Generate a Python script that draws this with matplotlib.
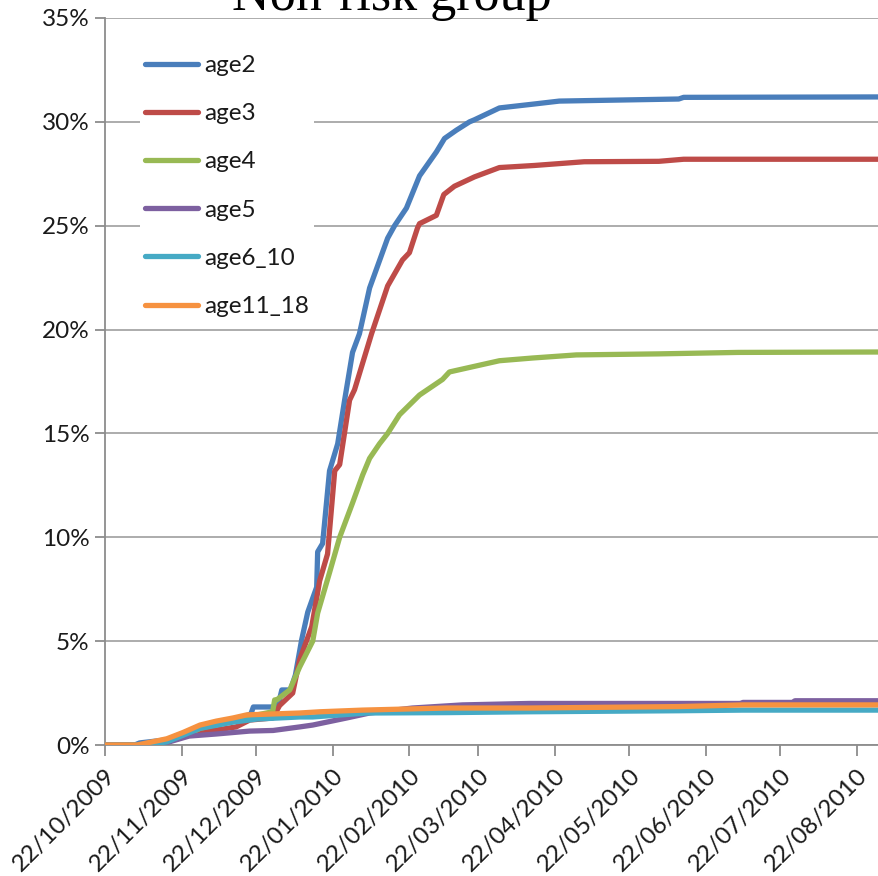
import numpy as np
import pandas as pd
import matplotlib
matplotlib.use("Agg")
import matplotlib.pyplot as plt
import matplotlib.dates as mdates
from matplotlib.ticker import PercentFormatter

start = pd.Timestamp("2009-10-22")
end = pd.Timestamp("2010-08-31")

# cumulative share of each age group, days counted from 22/10/2009, values in %
age2_days = [0, 12, 14, 25, 38, 45, 56, 59, 60, 68, 70, 71.5, 75, 77, 79.5, 82, 85.6, 86, 88,
             90.8, 94.1, 96.9, 100.1, 102.9, 107, 114.3, 117.1, 121.9, 127.2, 134, 137.3, 142.1,
             147.4, 149.4, 159.5, 173.6, 183.7, 232, 234, 313]
age2_pct = [0, 0, 0.1, 0.25, 0.87, 1.06, 1.35, 1.5, 1.83, 1.83, 1.9, 2.65, 2.65, 3.37, 5.05, 6.4,
            7.6, 9.3, 9.7, 13.2, 14.5, 16.6, 18.9, 19.8, 22.0, 24.4, 25.0, 25.85, 27.4, 28.55,
            29.2, 29.6, 30.0, 30.1, 30.67, 30.86, 31.0, 31.1, 31.18, 31.2]

age3_days = [0, 14, 25, 31.5, 38.4, 45, 53, 58.5, 67.8, 70.6, 75.9, 78.7, 83.6, 86.8, 90, 92.9,
             94.9, 98.9, 100.9, 107.8, 114.3, 120.3, 123.1, 126.4, 127.2, 134, 137, 141.3, 149.4,
             159.5, 173.6, 193.8, 224, 234, 313]
age3_pct = [0, 0, 0.15, 0.5, 0.63, 0.72, 0.87, 1.2, 1.3, 1.9, 2.5, 4.1, 5.7, 7.9, 9.2, 13.2,
            13.5, 16.6, 17.1, 19.8, 22.1, 23.35, 23.7, 24.9, 25.1, 25.5, 26.5, 26.9, 27.35,
            27.8, 27.9, 28.08, 28.1, 28.2, 28.2]

age4_days = [0, 18, 25, 31.5, 38.4, 57.3, 67.8, 68.6, 69.4, 74.7, 78.7, 84, 86, 90.8, 94.9,
             100.1, 104.2, 107, 111, 114.3, 119.1, 127.2, 136.5, 139.3, 159.5, 172.8, 190.6,
             224, 256, 313]
age4_pct = [0, 0, 0.15, 0.38, 0.8, 1.35, 1.6, 2.17, 2.17, 2.65, 3.75, 5.0, 6.35, 8.3, 10.0,
            11.65, 13.0, 13.8, 14.5, 15.0, 15.9, 16.85, 17.6, 17.96, 18.5, 18.63, 18.78,
            18.83, 18.9, 18.92]

age5_days = [0, 18, 26, 34, 45, 58.5, 68, 78.7, 84, 97.7, 107, 124.3, 144.5, 171.6, 257,
             258, 278, 279, 313]
age5_pct = [0, 0, 0.15, 0.43, 0.53, 0.67, 0.7, 0.87, 0.96, 1.3, 1.54, 1.78, 1.93, 2.0, 2.0,
            2.05, 2.05, 2.13, 2.13]

age6_10_days = [0, 16, 25, 38.4, 51.7, 61.4, 78.7, 84, 105.8, 139, 171.6, 232, 258, 313]
age6_10_pct = [0, 0, 0.15, 0.8, 1.1, 1.25, 1.35, 1.35, 1.54, 1.56, 1.6, 1.65, 1.68, 1.68]

age11_18_days = [0, 13, 25, 31.5, 38.4, 45, 51.7, 57.3, 78.7, 87, 104.2, 138, 171.6, 232,
                 258, 313]
age11_18_pct = [0, 0, 0.3, 0.6, 0.96, 1.15, 1.3, 1.45, 1.54, 1.6, 1.68, 1.78, 1.78, 1.85,
                1.93, 1.93]

labels = ["age2", "age3", "age4", "age5", "age6_10", "age11_18"]
colors = ["#4A7EBB", "#BE4B48", "#98B954", "#7D60A0", "#46AAC5", "#F69240"]
series = [(age2_days, age2_pct), (age3_days, age3_pct), (age4_days, age4_pct),
          (age5_days, age5_pct), (age6_10_days, age6_10_pct), (age11_18_days, age11_18_pct)]

tick_dates = pd.date_range(start, periods=11, freq=pd.DateOffset(months=1))

plt.rcParams["font.family"] = ["Lato", "DejaVu Sans"]
fs = 17.5

fig = plt.figure(figsize=(8.79, 8.76), dpi=100)
ax = fig.add_axes([105 / 879, 1 - 745 / 876, 1 - 105 / 879, 727 / 876])

for (days, pct), lab, col in zip(series, labels, colors):
    dates = start + pd.to_timedelta(days, unit="D")
    ax.plot(dates, pct, color=col, lw=3.8, label=lab, solid_capstyle="round", zorder=3)

ax.set_ylim(0, 35)
ax.set_yticks(np.arange(0, 36, 5))
ax.yaxis.set_major_formatter(PercentFormatter(100, decimals=0))
ax.set_xlim(start, end)
ax.set_xticks(tick_dates)
ax.xaxis.set_major_formatter(mdates.DateFormatter("%d/%m/%Y"))

ax.grid(axis="y", color="#a6a6a6", lw=1.3)
ax.set_axisbelow(True)
for s in ["top", "right"]:
    ax.spines[s].set_visible(False)
for s in ["left", "bottom"]:
    ax.spines[s].set_color("#8c8c8c")
    ax.spines[s].set_linewidth(1.3)

ax.tick_params(axis="x", direction="out", length=8, width=1.3, color="#8c8c8c",
               labelsize=fs, pad=6, labelcolor="#1a1a1a")
ax.tick_params(axis="y", direction="out", length=7, width=1.3, color="#8c8c8c",
               labelsize=fs, pad=4, labelcolor="#1a1a1a")
for t in ax.get_xticklabels():
    t.set_rotation(45)
    t.set_ha("right")
    t.set_rotation_mode("anchor")

leg = ax.legend(loc="upper left", bbox_to_anchor=(0.0293, 0.9725), fontsize=fs,
                frameon=True, facecolor="white", edgecolor="none", framealpha=1,
                handlelength=2.2, handletextpad=0.25, labelspacing=1.12, borderpad=0.2,
                fancybox=False)
for t in leg.get_texts():
    t.set_color("#1a1a1a")
leg.set_zorder(5)

fig.text(392 / 879, 1 - 10 / 876, "Non-risk group", ha="center", va="baseline",
         fontsize=37.5, family="Liberation Serif")

fig.savefig("out.png", dpi=100)
